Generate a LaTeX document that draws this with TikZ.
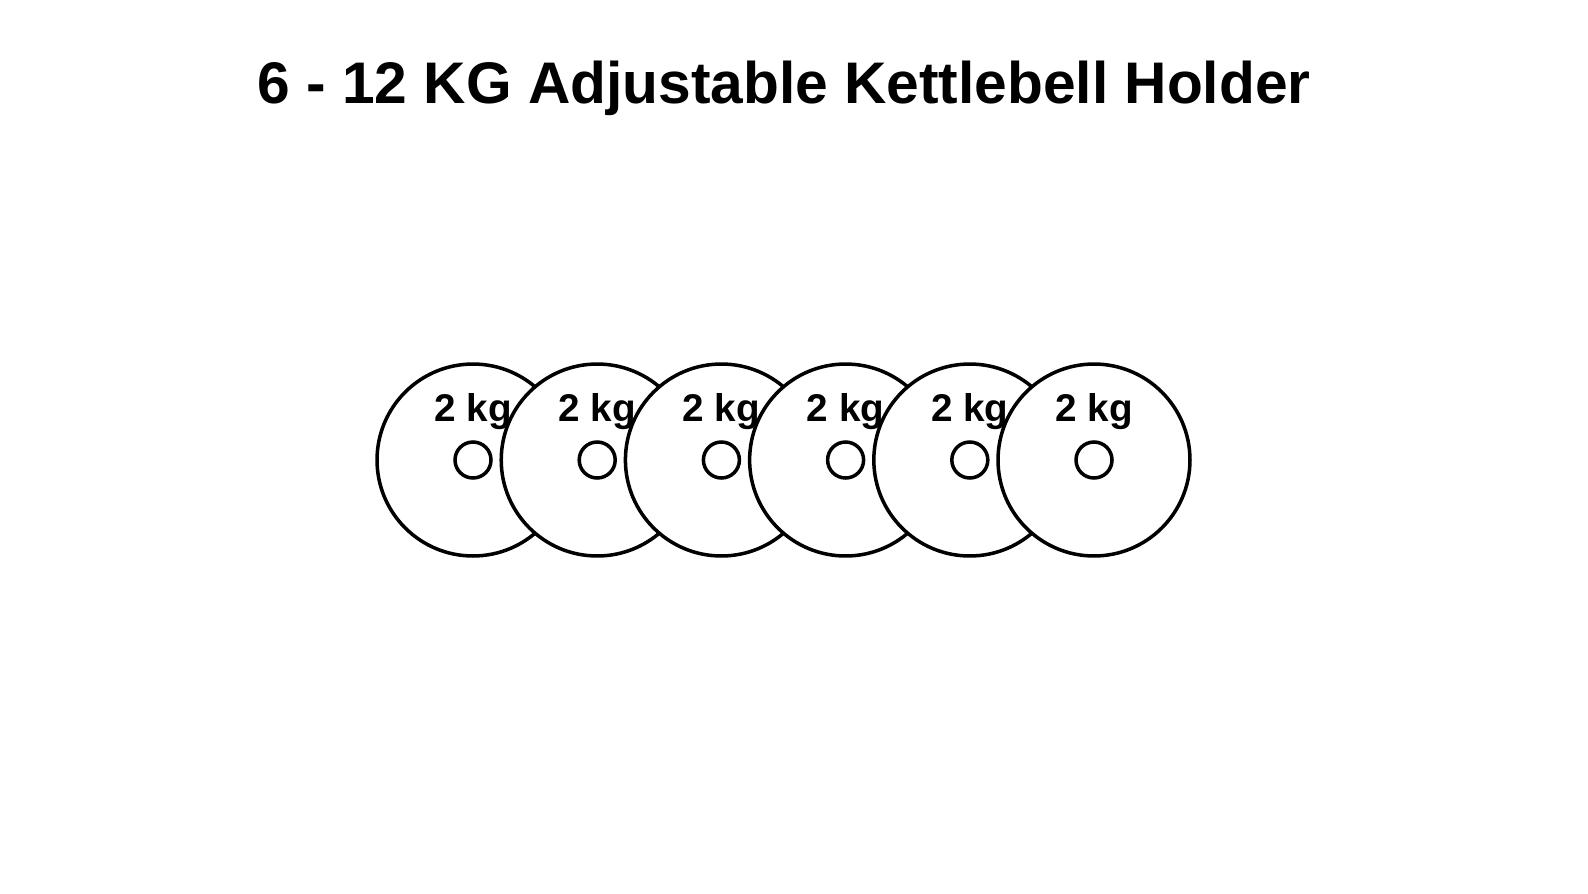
\documentclass[tikz,border=0pt]{standalone}
\usepackage{fontspec}
\setmainfont{Liberation Sans}
\begin{document}
\begin{tikzpicture}[x=0.02cm,y=-0.02cm]
\useasboundingbox (0,0) rectangle (1588,893);
\node[font=\bfseries\fontsize{33.4}{40}\selectfont] (title) at (784,88) {6 - 12 KG Adjustable Kettlebell Holder};
\foreach \i in {1,...,6} {
\pgfmathsetmacro{\px}{473+124.2*(\i-1)}
\node[circle,draw,fill=white,line width=2pt,inner sep=0pt,minimum size=3.84cm] (plate\i) at (\px,460) {};
\node[circle,draw,line width=2pt,inner sep=0pt,minimum size=0.72cm] (hole\i) at (plate\i.center) {};
}
\foreach \i in {1,...,6} {
\node[font=\bfseries\fontsize{22}{26}\selectfont] (weight\i) at ([yshift=0.96cm]plate\i.center) {2 kg};
}
\end{tikzpicture}
\end{document}
